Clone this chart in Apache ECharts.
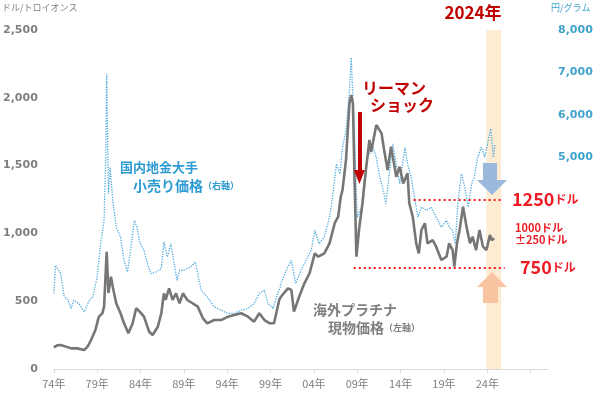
<!DOCTYPE html>
<html><head><meta charset="utf-8">
<script src="https://cdn.jsdelivr.net/npm/echarts@6/dist/echarts.min.js"></script>
<style>html,body{margin:0;padding:0;background:#fff}#c{width:600px;height:397px}</style>
</head><body><div id="c"></div>
<script>
const BASE_YEAR = 1974;
const LAST_LABEL_OFFSET = 50; // 24年

// 海外プラチナ現物価格 (ドル/トロイオンス, 左軸)
const platYears = [1974.0,1974.4,1974.8,1975.4,1976.0,1976.7,1977.5,1977.9,1978.3,1978.8,1979.2,1979.6,1979.8,1980.1,1980.3,1980.6,1980.8,1981.2,1981.7,1982.1,1982.6,1983.1,1983.5,1983.9,1984.4,1985.0,1985.4,1986.0,1986.4,1986.7,1986.9,1987.3,1987.7,1988.1,1988.5,1988.9,1989.4,1990.0,1990.6,1991.2,1991.7,1992.5,1993.3,1994.1,1994.8,1995.6,1996.4,1997.1,1997.7,1998.3,1998.9,1999.4,2000.0,2000.2,2001.0,2001.4,2001.7,2002.3,2002.9,2003.5,2004.1,2004.5,2005.2,2005.8,2006.4,2006.8,2007.1,2007.3,2007.7,2008.1,2008.3,2008.5,2008.7,2008.9,2009.2,2009.6,2010.0,2010.4,2010.6,2011.2,2011.8,2012.1,2012.5,2012.9,2013.5,2013.9,2014.3,2014.8,2015.0,2015.4,2015.8,2016.1,2016.4,2016.8,2017.1,2017.7,2018.1,2018.7,2019.3,2019.6,2020.0,2020.2,2020.5,2020.8,2021.2,2021.6,2022.0,2022.3,2022.7,2023.1,2023.5,2023.9,2024.3,2024.5,2024.8];
const platValues = [160,175,177,165,152,152,140,165,214,288,386,410,460,865,560,680,607,485,411,337,263,337,448,423,386,275,251,312,411,558,509,595,509,558,485,558,509,485,460,374,337,361,361,386,398,411,386,349,411,361,337,337,509,533,595,583,423,533,632,706,853,828,853,927,1075,1123,1271,1320,1541,1960,2021,1960,1369,828,1025,1222,1468,1689,1600,1800,1738,1615,1468,1640,1418,1492,1369,1443,1222,1123,927,853,1025,1075,927,951,902,804,828,927,877,755,927,1025,1197,1050,927,976,877,1025,902,877,988,951,963];

// 国内地金大手小売り価格 (円/グラム, 右軸)
const retailYears = [1974.0,1974.2,1974.8,1975.2,1975.6,1976.0,1976.3,1976.9,1977.5,1978.1,1978.5,1979.0,1979.4,1979.8,1980.0,1980.1,1980.3,1980.5,1980.8,1981.2,1981.7,1982.1,1982.5,1982.9,1983.3,1983.6,1983.9,1984.4,1984.8,1985.2,1985.8,1986.4,1986.7,1987.1,1987.5,1987.9,1988.2,1988.5,1989.0,1989.8,1990.3,1990.6,1991.0,1991.7,1992.5,1993.3,1994.1,1994.8,1995.6,1996.4,1997.1,1997.7,1998.3,1998.7,1999.3,1999.8,2000.1,2000.2,2000.8,2001.4,2001.9,2002.5,2003.1,2003.7,2004.1,2004.6,2005.2,2005.8,2006.2,2006.6,2007.0,2007.3,2007.7,2008.1,2008.3,2008.5,2008.8,2009.0,2009.5,2009.8,2010.2,2010.8,2011.2,2011.6,2012.0,2012.3,2012.7,2013.1,2013.5,2013.9,2014.5,2014.8,2015.2,2015.6,2016.0,2016.4,2017.0,2017.5,2018.1,2018.7,2019.3,2019.6,2020.0,2020.3,2020.6,2021.0,2021.4,2021.8,2022.2,2022.5,2022.9,2023.3,2023.7,2024.1,2024.4,2024.7,2024.9];
const retailValues = [1781,2447,2251,1702,1640,1428,1624,1546,1348,1624,1702,2172,2957,3506,5075,6958,4134,4761,3977,3348,3113,2565,2290,2878,3506,3348,2996,2800,2487,2251,2290,2369,2996,2643,2957,2487,2094,2330,2330,2408,2526,2251,1859,1702,1467,1388,1310,1310,1388,1428,1546,1781,1859,1546,1428,1781,1898,2017,2330,2565,2017,2330,2565,2800,3271,2957,3113,3584,4134,4840,4605,5231,5624,6565,7349,6408,4840,3584,3819,4447,4996,5231,4996,4525,4212,3899,4605,5311,4840,4370,5231,4840,4525,4055,3584,3819,3741,3819,3584,3348,3506,3348,3271,2957,3899,4605,4290,3819,4370,4525,4996,5231,4996,5389,5670,4996,5311];

// reference levels (ドル) and their spans (years)
const refLevels = [1250, 750];
const refStartYears = [2015.5, 2008.6];
const refEndYears = [2025.8, 2026.0];
// 2024 band
const bandYears = [2023.9, 2025.6];
// Lehman shock arrow (year, from value, to value in ドル)
const lehmanArrow = [2009.25, 1895, 1416];

const off = y => +(y - BASE_YEAR).toFixed(3);
const platData = platYears.map((y, i) => [off(y), platValues[i]]);
const retailData = retailYears.map((y, i) => [off(y), retailValues[i]]);
const fmtComma = v => v.toLocaleString('en-US');
const JP = '"Noto Sans CJK JP", sans-serif';
const NUM = '"DejaVu Sans", sans-serif';

const refLines = refLevels.map((v, i) => [
  {coord: [off(refStartYears[i]), v]},
  {coord: [off(refEndYears[i]), v]}
]);

const chart = echarts.init(document.getElementById('c'), null, {renderer: 'canvas'});
chart.setOption({
  animation: false,
  backgroundColor: '#ffffff',
  grid: {left: 53, right: 52, top: 30, bottom: 28},
  xAxis: {
    type: 'value', min: 0, max: 57, interval: 5,
    axisLine: {lineStyle: {color: '#d9d9d9', width: 1}},
    axisTick: {show: true, length: 4, lineStyle: {color: '#d9d9d9'}},
    splitLine: {show: false},
    axisLabel: {
      color: '#7f7f7f', fontSize: 11, fontFamily: JP, margin: 9, showMaxLabel: false,
      formatter: v => v <= LAST_LABEL_OFFSET ? String((BASE_YEAR + v) % 100).padStart(2, '0') + '年' : ''
    }
  },
  yAxis: [
    {
      type: 'value', min: 0, max: 2500, interval: 500, position: 'left',
      axisLine: {show: false}, axisTick: {show: false}, splitLine: {show: false},
      axisLabel: {color: '#7f7f7f', fontSize: 11, fontWeight: 'bold', fontFamily: NUM, margin: 16, formatter: fmtComma}
    },
    {
      type: 'value', min: 0, max: 8000, interval: 1000, position: 'right',
      axisLine: {show: false}, axisTick: {show: false}, splitLine: {show: false},
      axisLabel: {color: '#3ea2cc', fontSize: 11, fontWeight: 'bold', fontFamily: NUM, margin: 10,
        formatter: v => v >= 5000 ? fmtComma(v) : ''}
    }
  ],
  series: [
    {
      type: 'line', data: [], z: 1, silent: true,
      markArea: {silent: true, itemStyle: {color: '#fdebd2'},
        data: [[{xAxis: off(bandYears[0])}, {xAxis: off(bandYears[1])}]]}
    },
    {
      name: '国内地金大手小売り価格', type: 'line', yAxisIndex: 1, data: retailData, z: 2,
      showSymbol: false, smooth: false,
      lineStyle: {color: '#4faadd', width: 1.3, type: 'dotted'}
    },
    {
      name: '海外プラチナ現物価格', type: 'line', yAxisIndex: 0, data: platData, z: 3,
      showSymbol: false,
      lineStyle: {color: '#767676', width: 2.6},
      markLine: {
        silent: true, animation: false,
        label: {show: false},
        data: refLines.map(l => [
          Object.assign({symbol: 'none', lineStyle: {color: '#ff1a1a', width: 2, type: [2, 3]}}, l[0]),
          Object.assign({symbol: 'none'}, l[1])
        ]).concat([[
          {coord: [off(lehmanArrow[0]), lehmanArrow[1]], symbol: 'none', lineStyle: {color: '#c00000', width: 4, type: 'solid'}},
          {coord: [off(lehmanArrow[0]), lehmanArrow[2]], symbol: 'triangle', symbolSize: [11, 14]}
        ]])
      }
    }
  ],
  graphic: [
    {type: 'polygon', z: 10, shape: {points: [[483,163],[497,163],[497,180],[507,180],[492,195],[477,180],[483,180]]}, style: {fill: '#9bb8dd'}},
    {type: 'polygon', z: 10, shape: {points: [[492,272],[507,287],[498,287],[498,303],[483,303],[483,287],[477,287]]}, style: {fill: '#f9c2a0'}},
    {type: 'text', z: 20, style: {text: 'ドル/トロイオンス', x: 2, y: 8, fill: '#7f7f7f', font: '9px ' + JP, align: 'left', verticalAlign: 'middle', textAlign: 'left', textVerticalAlign: 'middle'}},
    {type: 'text', z: 20, style: {text: '円/グラム', x: 551, y: 8, fill: '#3ea2cc', font: '9px ' + JP, align: 'left', verticalAlign: 'middle', textAlign: 'left', textVerticalAlign: 'middle'}},
    {type: 'text', z: 20, style: {text: '2024年', x: 473, y: 13, fill: '#c00000', font: 'bold 17px ' + JP, align: 'center', verticalAlign: 'middle', textAlign: 'center', textVerticalAlign: 'middle'}},
    {type: 'text', z: 20, style: {text: 'リーマン', x: 362, y: 88, fill: '#c00000', font: 'bold 16px ' + JP, align: 'left', verticalAlign: 'middle', textAlign: 'left', textVerticalAlign: 'middle'}},
    {type: 'text', z: 20, style: {text: 'ショック', x: 370, y: 105, fill: '#c00000', font: 'bold 16px ' + JP, align: 'left', verticalAlign: 'middle', textAlign: 'left', textVerticalAlign: 'middle'}},
    {type: 'text', z: 20, style: {text: '{a|1250}{b|ドル}', x: 512, y: 199, align: 'left', verticalAlign: 'middle', textAlign: 'left', textVerticalAlign: 'middle',
      rich: {a: {fill: '#ee1c25', fontSize: 18, fontWeight: 'bold', fontFamily: JP}, b: {fill: '#ee1c25', fontSize: 12, fontWeight: 'bold', fontFamily: JP}}}},
    {type: 'text', z: 20, style: {text: '1000ドル', x: 515, y: 228, fill: '#ee1c25', font: 'bold 11px ' + JP, align: 'left', verticalAlign: 'middle', textAlign: 'left', textVerticalAlign: 'middle'}},
    {type: 'text', z: 20, style: {text: '±250ドル', x: 515, y: 240, fill: '#ee1c25', font: 'bold 11px ' + JP, align: 'left', verticalAlign: 'middle', textAlign: 'left', textVerticalAlign: 'middle'}},
    {type: 'text', z: 20, style: {text: '{a|750}{b|ドル}', x: 520, y: 267, align: 'left', verticalAlign: 'middle', textAlign: 'left', textVerticalAlign: 'middle',
      rich: {a: {fill: '#ee1c25', fontSize: 18, fontWeight: 'bold', fontFamily: JP}, b: {fill: '#ee1c25', fontSize: 12, fontWeight: 'bold', fontFamily: JP}}}},
    {type: 'text', z: 20, style: {text: '国内地金大手', x: 120, y: 167, fill: '#2e9bd2', font: 'bold 13px ' + JP, align: 'left', verticalAlign: 'middle', textAlign: 'left', textVerticalAlign: 'middle'}},
    {type: 'text', z: 20, style: {text: '{a|小売り価格}{b|（右軸）}', x: 133, y: 186, align: 'left', verticalAlign: 'middle', textAlign: 'left', textVerticalAlign: 'middle',
      rich: {a: {fill: '#2e9bd2', fontSize: 14, fontWeight: 'bold', fontFamily: JP}, b: {fill: '#2e9bd2', fontSize: 9, fontWeight: 'bold', fontFamily: JP}}}},
    {type: 'text', z: 20, style: {text: '海外プラチナ', x: 313, y: 310, fill: '#7f7f7f', font: 'bold 14px ' + JP, align: 'left', verticalAlign: 'middle', textAlign: 'left', textVerticalAlign: 'middle'}},
    {type: 'text', z: 20, style: {text: '{a|現物価格}{b|（左軸）}', x: 328, y: 328, align: 'left', verticalAlign: 'middle', textAlign: 'left', textVerticalAlign: 'middle',
      rich: {a: {fill: '#7f7f7f', fontSize: 14, fontWeight: 'bold', fontFamily: JP}, b: {fill: '#7f7f7f', fontSize: 9, fontWeight: 'bold', fontFamily: JP}}}}
  ]
});
</script>
</body></html>
